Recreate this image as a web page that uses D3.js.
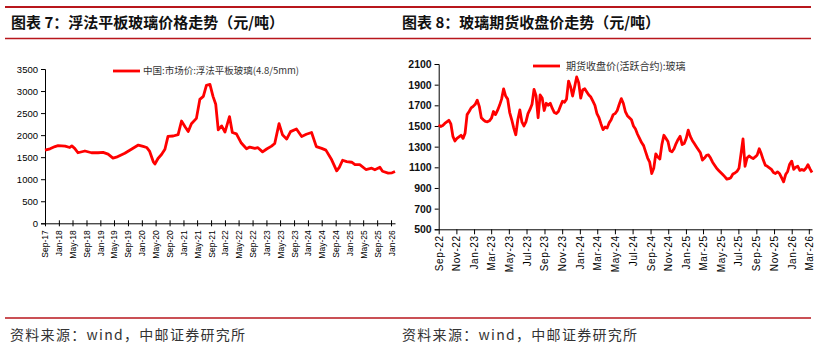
<!DOCTYPE html>
<html><head><meta charset="utf-8">
<script src="https://cdn.jsdelivr.net/npm/d3@7/dist/d3.min.js"></script>
<style>
body{margin:0;background:#fff;}
svg{display:block;}
</style></head>
<body>
<svg id="c" width="822" height="350"></svg>
<script>
// ---------- Data ----------
const title1 = "图表 7：浮法平板玻璃价格走势（元/吨）";
const title2 = "图表 8：玻璃期货收盘价走势（元/吨）";
const source = "资料来源：wind，中邮证券研究所";
const legend1 = "中国:市场价:浮法平板玻璃(4.8/5mm)";
const legend2 = "期货收盘价(活跃合约):玻璃";

const y1Ticks = [0,500,1000,1500,2000,2500,3000,3500];
const y2Ticks = [500,700,900,1100,1300,1500,1700,1900,2100];

const spotDates = ["2017-09-01","2017-10-15","2017-11-28","2017-12-25","2018-02-25","2018-04-07","2018-04-25","2018-05-20","2018-06-18","2018-08-18","2018-10-15","2018-12-12","2019-01-25","2019-03-10","2019-04-22","2019-05-22","2019-08-04","2019-10-01","2019-12-01","2020-01-12","2020-02-12","2020-03-10","2020-04-10","2020-04-25","2020-05-22","2020-06-22","2020-07-22","2020-08-18","2020-10-03","2020-11-15","2020-12-15","2021-01-15","2021-02-12","2021-03-12","2021-04-25","2021-05-25","2021-06-25","2021-07-22","2021-08-22","2021-09-18","2021-10-12","2021-11-03","2021-12-03","2022-01-01","2022-02-10","2022-03-07","2022-04-12","2022-05-25","2022-07-10","2022-08-07","2022-09-21","2022-10-18","2022-11-28","2023-01-03","2023-02-15","2023-03-15","2023-04-22","2023-05-22","2023-06-28","2023-08-01","2023-09-22","2023-11-07","2023-12-18","2024-02-02","2024-03-15","2024-05-01","2024-06-07","2024-07-28","2024-09-10","2024-10-03","2024-11-01","2024-12-07","2025-01-20","2025-02-18","2025-04-01","2025-05-25","2025-07-15","2025-08-12","2025-09-25","2025-10-18","2025-12-07","2026-01-10","2026-02-05"];
const spotValues = [1660,1690,1740,1760,1750,1720,1755,1700,1600,1640,1600,1600,1610,1570,1480,1500,1590,1680,1775,1745,1720,1630,1400,1345,1470,1560,1680,1970,1980,2010,2320,2190,2080,2260,2380,2810,2880,3130,3150,2880,2700,2120,2210,2070,2420,2060,2030,1820,1690,1730,1700,1715,1620,1685,1750,1810,2260,2010,1910,2080,2140,1970,2020,2060,1740,1700,1660,1440,1190,1270,1430,1400,1385,1330,1330,1220,1250,1215,1270,1180,1140,1145,1175];

// weekly closes of the glass futures, first week starting 2022-09-01
const futuresStart = "2022-09-01";
const futuresValues = [1510,1495,1505,1525,1540,1555,1520,1400,1355,1380,1395,1410,1380,1430,1610,1640,1675,1690,1710,1750,1690,1580,1560,1545,1540,1550,1575,1640,1610,1650,1700,1760,1860,1790,1760,1630,1560,1480,1415,1560,1655,1540,1500,1540,1620,1660,1710,1855,1790,1580,1800,1770,1650,1720,1700,1720,1670,1630,1620,1640,1690,1740,1730,1760,1935,1880,1790,1880,1975,1920,1770,1850,1860,1830,1800,1780,1740,1700,1620,1580,1520,1465,1490,1480,1530,1560,1610,1620,1650,1710,1765,1720,1640,1600,1580,1560,1500,1470,1420,1380,1340,1310,1250,1190,1150,1040,1090,1230,1200,1180,1320,1410,1380,1350,1260,1250,1280,1330,1370,1400,1320,1330,1380,1460,1400,1360,1330,1300,1270,1240,1170,1190,1215,1220,1190,1150,1120,1090,1070,1050,1030,1010,985,990,1000,1035,1045,1060,1090,1230,1375,1110,1190,1210,1195,1185,1200,1220,1280,1230,1170,1120,1110,1095,1080,1050,1040,1055,1040,1000,960,1030,1060,1130,1160,1080,1100,1110,1070,1080,1070,1090,1125,1085,1050];

// ---------- Drawing ----------
const svg = d3.select("#c");
const parse = d3.timeParse("%Y-%m-%d");
const fmt = d3.timeFormat("%b-%y");
const RED_RULE = "#b8161c";
const numFont = "'Liberation Sans', Arial, sans-serif";
const cjkFont = "'Noto Sans CJK SC', sans-serif";

// header / footer rules
svg.append("line").attr("x1",5).attr("x2",811).attr("y1",7).attr("y2",7).attr("stroke",RED_RULE).attr("stroke-width",2);
svg.append("line").attr("x1",5).attr("x2",811).attr("y1",38.5).attr("y2",38.5).attr("stroke",RED_RULE).attr("stroke-width",1.4);
svg.append("line").attr("x1",5).attr("x2",811).attr("y1",318).attr("y2",318).attr("stroke",RED_RULE).attr("stroke-width",1.4);

function titleText(x, t){
  svg.append("text").attr("x",x).attr("y",23).attr("dy","0.35em")
    .attr("font-family",cjkFont).attr("font-weight",700).attr("font-size",15)
    .attr("fill","#111").text(t);
}
titleText(11, title1);
titleText(402, title2);
function sourceText(x){
  svg.append("text").attr("x",x).attr("y",335).attr("dy","0.35em")
    .attr("font-family",cjkFont).attr("font-size",14).attr("letter-spacing",1.3)
    .attr("fill","#333").text(source);
}
sourceText(10); sourceText(402);

// ---- Chart 1 ----
const spot = spotDates.map((d,i)=>({d:parse(d), v:spotValues[i]}));
const x1 = d3.scaleTime().domain([parse("2017-09-01"), parse("2026-02-05")]).range([45,395]);
const y1 = d3.scaleLinear().domain([0,3500]).range([223.3,69]);

const g1 = svg.append("g");
const ax1 = g1.append("g").attr("transform","translate(45,0)")
  .call(d3.axisLeft(y1).tickValues(y1Ticks).tickFormat(d3.format("d")).tickSize(4).tickPadding(3));
ax1.selectAll("text").attr("font-family",numFont).attr("font-size",9.5).attr("fill","#000");
const bx1 = g1.append("g").attr("transform","translate(0,223.3)")
  .call(d3.axisBottom(x1).ticks(d3.timeMonth.every(4)).tickFormat(fmt).tickSize(4).tickSizeOuter(0));
bx1.selectAll(".tick line").attr("y1",-3).attr("y2",3);
bx1.selectAll("text").attr("font-family",numFont).attr("font-size",8.5).attr("fill","#000")
  .attr("transform","rotate(-90)").attr("text-anchor","end").attr("x",-7).attr("y",0).attr("dy","0.35em");
g1.selectAll(".domain").attr("stroke","#000");

g1.append("path").datum(spot)
  .attr("d", d3.line().x(d=>x1(d.d)).y(d=>y1(d.v)).curve(d3.curveLinear))
  .attr("fill","none").attr("stroke","#f00").attr("stroke-width",2.8).attr("stroke-linejoin","round");

g1.append("line").attr("x1",113).attr("x2",140).attr("y1",71).attr("y2",71).attr("stroke","#f00").attr("stroke-width",2.8);
g1.append("text").attr("x",143).attr("y",71).attr("dy","0.35em").attr("font-family",cjkFont)
  .attr("font-size",9.5).attr("fill","#333").text(legend1);

// ---- Chart 2 ----
const t0 = parse(futuresStart);
const fut = futuresValues.map((v,i)=>({d:d3.timeDay.offset(t0, i*7), v}));
const x2 = d3.scaleTime().domain([parse("2022-09-01"), parse("2026-03-12")]).range([438.7,812]);
const y2 = d3.scaleLinear().domain([500,2100]).range([229.3,64]);

const g2 = svg.append("g");
const ax2 = g2.append("g").attr("transform","translate(438.7,0)")
  .call(d3.axisLeft(y2).tickValues(y2Ticks).tickFormat(d3.format("d")).tickSize(4).tickPadding(3));
ax2.selectAll("text").attr("font-family",numFont).attr("font-size",10.5).attr("font-weight",700).attr("fill","#111");
const bx2 = g2.append("g").attr("transform","translate(0,229.3)")
  .call(d3.axisBottom(x2).ticks(d3.timeMonth.every(2)).tickFormat(fmt).tickSize(5).tickSizeOuter(0));
bx2.selectAll("text").attr("font-family",numFont).attr("font-size",10).attr("letter-spacing",0.6).attr("fill","#000")
  .attr("transform","rotate(-90)").attr("text-anchor","end").attr("x",-6).attr("y",0).attr("dy","0.35em");
g2.selectAll(".domain").attr("stroke","#000");

g2.append("path").datum(fut)
  .attr("d", d3.line().x(d=>x2(d.d)).y(d=>y2(d.v)))
  .attr("fill","none").attr("stroke","#f00").attr("stroke-width",2.8).attr("stroke-linejoin","round");

g2.append("line").attr("x1",533).attr("x2",560).attr("y1",66).attr("y2",66).attr("stroke","#f00").attr("stroke-width",2.8);
g2.append("text").attr("x",566).attr("y",66).attr("dy","0.35em").attr("font-family",cjkFont)
  .attr("font-size",10).attr("fill","#333").text(legend2);
</script>
</body></html>
